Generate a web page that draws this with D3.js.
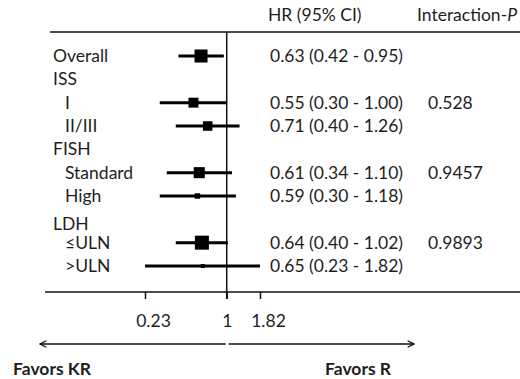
<!DOCTYPE html>
<html>
<head>
<meta charset="utf-8">
<script src="https://cdn.jsdelivr.net/npm/d3@7"></script>
<style>
  html, body { margin: 0; padding: 0; background: #fff; }
  svg { display: block; }
  text { font-family: Lato, "Open Sans", sans-serif; fill: #1e1e1e; }
</style>
</head>
<body>
<div id="chart"></div>
<script>
// ---------- data ----------
const labels   = ["Overall", "ISS", "I", "II/III", "FISH", "Standard", "High", "LDH", "≤ULN", ">ULN"];
const levels   = [0, 0, 1, 1, 0, 1, 1, 0, 1, 1];
const hr       = [0.63, null, 0.55, 0.71, null, 0.61, 0.59, null, 0.64, 0.65];
const ciLow    = [0.42, null, 0.30, 0.40, null, 0.34, 0.30, null, 0.40, 0.23];
const ciHigh   = [0.95, null, 1.00, 1.26, null, 1.10, 1.18, null, 1.02, 1.82];
const weights  = [93, null, 71, 68, null, 79, 39, null, 100, 29];   // relative study weight (box size)
const pInter   = ["", "", "0.528", "", "", "0.9457", "", "", "0.9893", ""];
const tickVals = [0.23, 1, 1.82];
const tickLabels = ["0.23", "1", "1.82"];
const headers  = ["HR (95% CI)", "Interaction-"];
const favors   = ["Favors KR", "Favors R"];

// ---------- layout ----------
const W = 520, H = 379;
const svg = d3.select("#chart").append("svg").attr("width", W).attr("height", H);
const FS = 17.5;

const x = d3.scaleLog().domain([0.23, 1.82]).range([145, 260]);
const slotShift = { "LDH": 0.2 };
const y = d3.scaleLinear().domain([0, 9]).range([56, 266]);
const size = d3.scaleLinear().domain([0, 100]).range([0, 14]);

const rows = labels.map((l, i) => ({
  label: l, level: levels[i], hr: hr[i], lo: ciLow[i], hi: ciHigh[i],
  w: weights[i], p: pInter[i], slot: i + (slotShift[l] || 0)
}));

const topY = 32, axisY = 292;

// header
svg.append("text").attr("x", 268).attr("y", 21).attr("font-size", FS).text(headers[0]);
const ht = svg.append("text").attr("x", 417).attr("y", 21).attr("font-size", FS);
ht.append("tspan").text(headers[1]);
ht.append("tspan").attr("font-style", "italic").text("P");

// top rule
svg.append("line").attr("x1", 50).attr("x2", W).attr("y1", topY).attr("y2", topY)
  .attr("stroke", "#111").attr("stroke-width", 1.5);

// axis
const axis = d3.axisBottom(x).tickValues(tickVals).tickFormat((d, i) => tickLabels[i])
  .tickSize(7).tickPadding(16);
const gAx = svg.append("g").attr("transform", `translate(0,${axisY})`).call(axis);
gAx.select(".domain").remove();
gAx.selectAll(".tick line").attr("stroke", "#111").attr("stroke-width", 1.5);
gAx.selectAll(".tick text").attr("font-size", FS).attr("font-family", "Lato, 'Open Sans', sans-serif")
  .attr("fill", "#1e1e1e")
  .attr("dx", d => d === 1 ? 0 : 8);
svg.append("line").attr("x1", 45).attr("x2", W).attr("y1", axisY).attr("y2", axisY)
  .attr("stroke", "#111").attr("stroke-width", 1.5);

// reference line at HR = 1
svg.append("line").attr("x1", x(1)).attr("x2", x(1)).attr("y1", topY).attr("y2", axisY + 7)
  .attr("stroke", "#111").attr("stroke-width", 1.5);

// row labels
svg.selectAll("text.lab").data(rows).join("text").attr("class", "lab")
  .attr("x", d => d.level ? 65 : 53)
  .attr("y", d => y(d.slot) + 6)
  .attr("font-size", FS).text(d => d.label);

const est = rows.filter(d => d.hr != null);

// CI lines
svg.selectAll("line.ci").data(est).join("line").attr("class", "ci")
  .attr("x1", d => x(d.lo)).attr("x2", d => x(d.hi))
  .attr("y1", d => y(d.slot)).attr("y2", d => y(d.slot))
  .attr("stroke", "#000").attr("stroke-width", 3);

// boxes
svg.selectAll("rect.box").data(est).join("rect").attr("class", "box")
  .attr("x", d => x(d.hr) - size(d.w) / 2).attr("y", d => y(d.slot) - size(d.w) / 2)
  .attr("width", d => size(d.w)).attr("height", d => size(d.w)).attr("fill", "#000");

// HR text
const f = d3.format(".2f");
svg.selectAll("text.hrt").data(est).join("text").attr("class", "hrt")
  .attr("x", 270).attr("y", d => y(d.slot) + 6).attr("font-size", FS)
  .text(d => `${f(d.hr)} (${f(d.lo)} - ${f(d.hi)})`);

// interaction p
svg.selectAll("text.pt").data(rows.filter(d => d.p)).join("text").attr("class", "pt")
  .attr("x", 428).attr("y", d => y(d.slot) + 6).attr("font-size", FS).text(d => d.p);

// arrows
const defs = svg.append("defs");
defs.append("marker").attr("id", "ah").attr("viewBox", "0 0 10 10").attr("refX", 9).attr("refY", 5)
  .attr("markerWidth", 8).attr("markerHeight", 8).attr("markerUnits", "userSpaceOnUse").attr("orient", "auto")
  .append("path").attr("d", "M1,1 L9,5 L1,9").attr("fill", "none").attr("stroke", "#111").attr("stroke-width", 1.6);
const arrowY = 344;
svg.append("line").attr("x1", x(1) - 1).attr("x2", 40).attr("y1", arrowY).attr("y2", arrowY)
  .attr("stroke", "#111").attr("stroke-width", 1.5).attr("marker-end", "url(#ah)");
svg.append("line").attr("x1", x(1) + 2).attr("x2", 414).attr("y1", arrowY).attr("y2", arrowY)
  .attr("stroke", "#111").attr("stroke-width", 1.5).attr("marker-end", "url(#ah)");

svg.append("text").attr("x", 13).attr("y", 375).attr("font-size", FS).attr("font-weight", "bold").text(favors[0]);
svg.append("text").attr("x", 325).attr("y", 375).attr("font-size", FS).attr("font-weight", "bold").text(favors[1]);
</script>
</body>
</html>
